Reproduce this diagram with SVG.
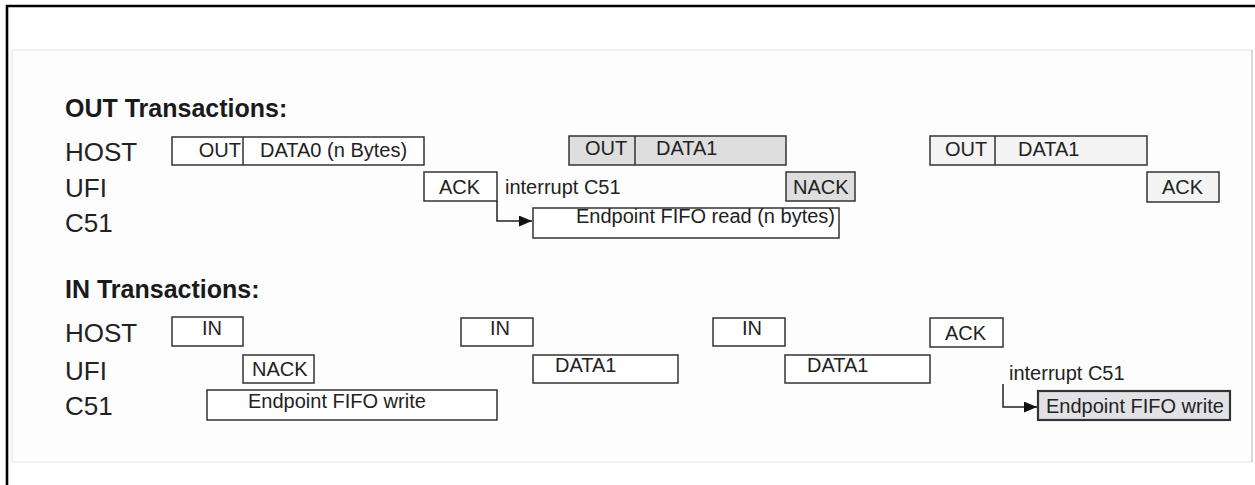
<svg xmlns="http://www.w3.org/2000/svg" width="1255" height="485" viewBox="0 0 1255 485">
<defs>
<style>
.lbl{font-family:"Liberation Sans",Arial,sans-serif;font-size:26px;fill:#222}
.ttl{font-family:"Liberation Sans",Arial,sans-serif;font-size:25px;font-weight:bold;fill:#1a1a1a}
.t{font-family:"Liberation Sans",Arial,sans-serif;font-size:20px;fill:#222}
.box{fill:#ffffff;stroke:#333;stroke-width:1.5}
.gray{fill:#dedede;stroke:#333;stroke-width:1.5}
.lgray{fill:#f4f4f4;stroke:#333;stroke-width:1.5}
.dgray{fill:#e2e2e6;stroke:#333;stroke-width:2.2}
.conn{fill:none;stroke:#222;stroke-width:1.5}
</style>
<marker id="ah" viewBox="0 0 12 10" refX="12" refY="5" markerWidth="13" markerHeight="11" markerUnits="userSpaceOnUse" orient="auto">
<path d="M0,0 L12,5 L0,10 z" fill="#111"/>
</marker>
</defs>
<rect x="0" y="0" width="1255" height="485" fill="#ffffff"/>
<line x1="6" y1="6" x2="1255" y2="6" stroke="#000" stroke-width="2.6"/>
<line x1="7" y1="5" x2="7" y2="485" stroke="#000" stroke-width="2.6"/>
<rect x="12" y="50" width="1240" height="412" fill="#fdfdfd" stroke="#e6e6e6" stroke-width="1"/>
<line x1="1252" y1="50" x2="1252" y2="462" stroke="#c8c8c8" stroke-width="1.2"/>

<g id="labels">
<text class="ttl" x="65" y="117">OUT Transactions:</text>
<text class="lbl" x="65" y="161">HOST</text>
<text class="lbl" x="65" y="197">UFI</text>
<text class="lbl" x="65" y="232">C51</text>
<text class="ttl" x="65" y="298">IN Transactions:</text>
<text class="lbl" x="65" y="342">HOST</text>
<text class="lbl" x="65" y="380">UFI</text>
<text class="lbl" x="65" y="415">C51</text>
</g>

<g id="out-host-1">
<rect class="box" x="172" y="137" width="252" height="28"/>
<line x1="243" y1="137" x2="243" y2="165" stroke="#333" stroke-width="1.5"/>
<text class="t" x="241" y="157" text-anchor="end">OUT</text>
<text class="t" x="260" y="157">DATA0 (n Bytes)</text>
</g>
<g id="out-ufi-ack-1">
<rect class="box" x="424" y="172" width="73" height="29"/>
<text class="t" x="439" y="194">ACK</text>
</g>
<text id="out-interrupt" class="t" x="505" y="194">interrupt C51</text>
<g id="out-c51-read">
<rect class="box" x="533" y="208" width="306" height="30"/>
<text class="t" x="835" y="223" text-anchor="end">Endpoint FIFO read (n bytes)</text>
</g>
<g id="out-host-2">
<rect class="gray" x="569" y="136" width="217" height="29"/>
<line x1="635" y1="136" x2="635" y2="165" stroke="#333" stroke-width="1.5"/>
<text class="t" x="585" y="155">OUT</text>
<text class="t" x="656" y="155">DATA1</text>
</g>
<g id="out-ufi-nack">
<rect class="gray" x="786" y="172" width="69" height="29"/>
<text class="t" x="793" y="194">NACK</text>
</g>
<g id="out-host-3">
<rect class="lgray" x="930" y="136" width="217" height="29"/>
<line x1="995" y1="136" x2="995" y2="165" stroke="#333" stroke-width="1.5"/>
<text class="t" x="945" y="156">OUT</text>
<text class="t" x="1018" y="156">DATA1</text>
</g>
<g id="out-ufi-ack-2">
<rect class="lgray" x="1147" y="172" width="72" height="30"/>
<text class="t" x="1162" y="194">ACK</text>
</g>

<g id="in-host-1">
<rect class="box" x="172" y="317" width="71" height="29"/>
<text class="t" x="202" y="335">IN</text>
</g>
<g id="in-ufi-nack">
<rect class="box" x="243" y="355" width="71" height="28"/>
<text class="t" x="252" y="376">NACK</text>
</g>
<g id="in-c51-write-1">
<rect class="box" x="207" y="390" width="290" height="30"/>
<text class="t" x="248" y="408">Endpoint FIFO write</text>
</g>
<g id="in-host-2">
<rect class="box" x="461" y="318" width="72" height="28"/>
<text class="t" x="490" y="335">IN</text>
</g>
<g id="in-ufi-data1-1">
<rect class="box" x="533" y="355" width="145" height="28"/>
<text class="t" x="555" y="372">DATA1</text>
</g>
<g id="in-host-3">
<rect class="box" x="713" y="318" width="72" height="28"/>
<text class="t" x="742" y="335">IN</text>
</g>
<g id="in-ufi-data1-2">
<rect class="box" x="785" y="355" width="145" height="28"/>
<text class="t" x="807" y="372">DATA1</text>
</g>
<g id="in-host-ack">
<rect class="box" x="930" y="318" width="73" height="29"/>
<text class="t" x="945" y="340">ACK</text>
</g>
<text id="in-interrupt" class="t" x="1009" y="380">interrupt C51</text>
<g id="in-c51-write-2">
<rect class="dgray" x="1038" y="391" width="192" height="29"/>
<text class="t" x="1046" y="413">Endpoint FIFO write</text>
</g>

<g id="connectors">
<polyline class="conn" points="497,201 497,221 532,221" marker-end="url(#ah)"/>
<polyline class="conn" points="1003,384 1003,407 1037,407" marker-end="url(#ah)"/>
</g>
</svg>
